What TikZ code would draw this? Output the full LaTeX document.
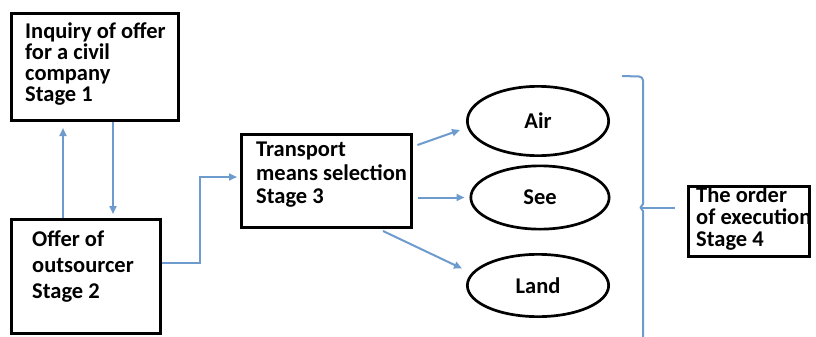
\documentclass[tikz,border=0pt]{standalone}
\usepackage{fontspec}
\setmainfont{Carlito}
\usetikzlibrary{arrows.meta,shapes.geometric,calc}
\definecolor{conncol}{RGB}{110,155,206}
\begin{document}
\begin{tikzpicture}[x=1pt,y=-1pt,
  boxthick/.style={draw=black, line width=3.3pt, rectangle, inner sep=0pt},
  boxthin/.style={draw=black, line width=2.7pt, rectangle, inner sep=0pt},
  ovalnode/.style={draw=black, line width=2.7pt, ellipse, inner sep=0pt,
    font=\fontsize{22.5}{24}\selectfont\bfseries},
  lbl/.style={align=left, inner sep=0pt, anchor=north west},
  conn/.style={draw=conncol, line width=2pt, -{Triangle[length=8pt,width=7pt]}},
  bracepath/.style={draw=conncol, line width=2pt, line join=round}]
\useasboundingbox (0,0) rectangle (816,337);
\fill[white] (0,0) rectangle (816,337);

% stage boxes
\node[boxthick, minimum width=166.7pt, minimum height=106.7pt] (s1) at (95,67) {};
\node[boxthick, minimum width=148.7pt, minimum height=113.7pt] (s2) at (86,276.5) {};
\node[boxthin, minimum width=170.3pt, minimum height=93.3pt] (s3) at (326.5,181) {};
\node[boxthin, minimum width=121.3pt, minimum height=70.3pt] (s4) at (749,221.5) {};

% texts
\node[lbl, font=\fontsize{22.5}{21.3}\selectfont\bfseries] (t1) at (25,22)
  {Inquiry of offer\\for a civil\\company\\Stage 1};
\node[lbl, font=\fontsize{22.5}{26}\selectfont\bfseries] (t2) at (32,230)
  {Offer of\\outsourcer\\Stage 2};
\node[lbl, font=\fontsize{22.5}{23.5}\selectfont\bfseries] (t3) at (256,142)
  {Transport\\means selection\\Stage 3};
\node[lbl, font=\fontsize{22.5}{22}\selectfont\bfseries] (t4) at (696,187)
  {The order\\of execution\\Stage 4};

% transport means
\node[ovalnode, minimum width=141.3pt, minimum height=69.3pt] (air) at (538,121) {Air};
\node[ovalnode, minimum width=138.3pt, minimum height=63.3pt] (see) at (540,197.5) {See};
\node[ovalnode, minimum width=141.3pt, minimum height=62.3pt] (land) at (538,285.5) {Land};

% helper coordinates
\coordinate (xup) at (63,0);
\coordinate (xdown) at (113,0);
\coordinate (xmid) at (200,0);
\coordinate (yin) at (0,263);
\coordinate (yout) at (0,177);

% connectors stage 1 <-> stage 2
\draw[conn, shorten >=6pt] (s2.north -| xup) -- (s1.south -| xup);
\draw[conn, shorten >=4pt] (s1.south -| xdown) -- (s2.north -| xdown);
% stage 2 -> stage 3
\draw[conn, shorten >=3pt] (s2.east |- yin) -- (xmid |- yin) -- (xmid |- yout) -- (s3.west |- yout);
% stage 3 -> means
\draw[conn] ($(s3.east)+(4.5,-36)$) -- ($(air.west)+(-6,9)$);
\draw[conn, shorten <=4.5pt, shorten >=5pt] (s3.east |- see.west) -- (see.west);
\draw[conn] ($(s3.south)+(56.5,2)$) -- ($(land.west)+(-4,-17)$);

% bracket towards stage 4
\coordinate (br1) at (622,76);
\coordinate (br2) at (639,76.5);
\coordinate (br3) at (643,80.5);
\coordinate (br4) at (643,204);
\coordinate (brn) at (640.5,207.5);
\coordinate (br5) at (643,211);
\coordinate (br6) at (643,337);
\coordinate (brend) at (675,207.5);
\draw[bracepath] (br1) -- (br2) to[out=0,in=90] (br3) -- (br4) -- (brn) -- (br5) -- (br6);
\draw[bracepath] (brn) -- (brend);
\end{tikzpicture}
\end{document}
